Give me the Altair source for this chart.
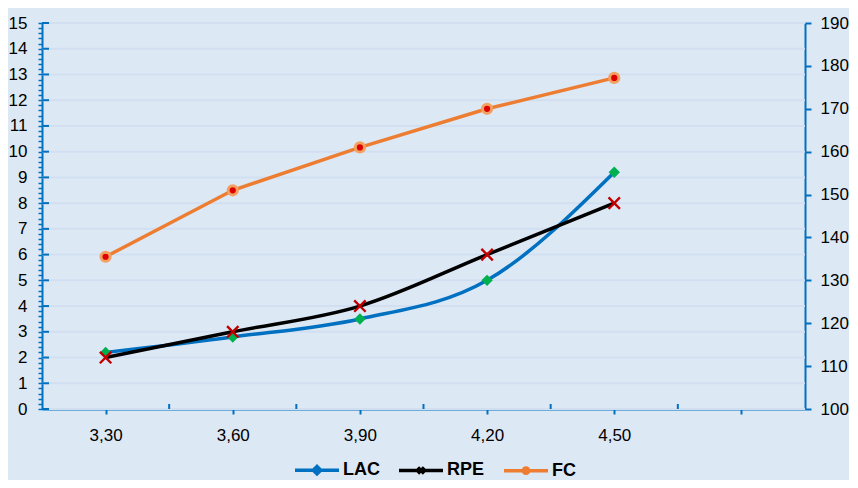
import json
import altair as alt
import pandas as pd

# ---- data ----
categories = ["3,30", "3,60", "3,90", "4,20", "4,50"]
lac = [2.2, 2.8, 3.5, 5.0, 9.2]
rpe = [2.0, 3.0, 4.0, 6.0, 8.0]
fc = [135.5, 151, 161, 170, 177.2]
x_labels = categories + [""]
left_ticks = list(range(0, 16))
right_ticks = list(range(100, 191, 10))
series = ["LAC", "RPE", "FC"]
line_colors = ["#0070c0", "#000000", "#ed7d31"]
marker_fills = ["#00b050", "transparent", "#e00000"]

BLUE = "#0070c0"
BG = "#dde8f5"
GRID = "#d1dff1"
FONT = "Liberation Sans"
W, H = 763, 386

rows = []
for i, c in enumerate(categories):
    rows.append({"i": i, "cat": c, "s": "LAC", "y": lac[i]})
    rows.append({"i": i, "cat": c, "s": "RPE", "y": rpe[i]})
left_df = pd.DataFrame(rows)
right_df = pd.DataFrame({"i": list(range(len(categories))), "cat": categories,
                         "s": ["FC"] * len(categories), "y2": fc})
grid_df = pd.DataFrame({"y": left_ticks})
bound_df = pd.DataFrame({"i": [k + 0.5 for k in range(len(categories))]})
legend_df = pd.DataFrame({"i": [0, 0, 0], "y": [0, 0, 0], "s": series})

# ---- axes ----
x_axis = alt.Axis(values=list(range(len(x_labels))),
                  labelExpr=json.dumps(x_labels) + "[datum.value]",
                  tickSize=5, tickWidth=2, tickColor=BLUE, domainColor=BLUE,
                  domainWidth=2, grid=False, labelFontSize=17, labelColor="black",
                  labelFont=FONT, labelPadding=13, title=None, labelOverlap=False)
x_enc = alt.X("i:Q", scale=alt.Scale(domain=[-0.5, len(x_labels) - 0.5], nice=False, zero=False),
              axis=x_axis)

minor = [round(k * 0.2, 1) for k in range(76)]
left_axis = alt.Axis(values=minor,
                     labelExpr="datum.value % 1 == 0 ? format(datum.value, 'd') : ''",
                     tickSize=4, tickWidth=1.5, tickColor=BLUE, domainColor=BLUE,
                     domainWidth=2, grid=False, labelFontSize=17, labelColor="black",
                     labelFont=FONT, labelPadding=11, title=None, labelOverlap=False,
                     orient="left")
y_scale = alt.Scale(domain=[0, 15], nice=False, zero=True)

right_axis = alt.Axis(values=right_ticks, tickSize=6, tickWidth=2, tickColor=BLUE,
                      domainColor=BLUE, domainWidth=2, grid=False, labelFontSize=17,
                      labelColor="black", labelFont=FONT, labelPadding=9, title=None,
                      orient="right", labelOverlap=False)
y2_scale = alt.Scale(domain=[100, 190], nice=False, zero=False)

# ---- legend: line + marker symbols ----
legend_paths = [
    "M-1,0H1M-0.17,0L0,-0.17L0.17,0L0,0.17Z",
    "M-1,0H1M-0.14,-0.14L0.14,0.14M-0.14,0.14L0.14,-0.14",
    "M-1,0H1M-0.12,0A0.12,0.12,0,1,0,0.12,0A0.12,0.12,0,1,0,-0.12,0Z",
]


def make_legend(stype=None):
    kw = dict(title=None, orient="none", legendX=251, legendY=423,
              direction="horizontal", symbolSize=1936, symbolStrokeWidth=3.5,
              symbolOpacity=1,
              labelFontSize=18, labelFontWeight="bold", labelColor="black",
              labelFont=FONT, columnPadding=12, labelOffset=2)
    if stype:
        kw["symbolType"] = stype
    return alt.Legend(**kw)


color_enc = alt.Color("s:N", scale=alt.Scale(domain=series, range=line_colors),
                      legend=make_legend("M-1,0H1"))

legend_layer = alt.Chart(legend_df).mark_point(
    filled=True, strokeWidth=3.5, opacity=0).encode(
    x=x_enc, y=alt.Y("y:Q", scale=y_scale, axis=left_axis),
    fill=alt.Fill("s:N", scale=alt.Scale(domain=series, range=marker_fills),
                  legend=make_legend()),
    shape=alt.Shape("s:N", scale=alt.Scale(domain=series, range=legend_paths),
                    legend=make_legend()),
)

# ---- left group ----
grid = alt.Chart(grid_df).mark_rule(color=GRID, strokeWidth=2).encode(
    y=alt.Y("y:Q", scale=y_scale, axis=left_axis), x=alt.value(0), x2=alt.value(W))
major = alt.Chart(grid_df).mark_rule(color=BLUE, strokeWidth=2).encode(
    y=alt.Y("y:Q", scale=y_scale, axis=left_axis), x=alt.value(0), x2=alt.value(7))
bounds = alt.Chart(bound_df).mark_rule(color=BLUE, strokeWidth=2).encode(
    x=x_enc, y=alt.value(H), y2=alt.value(H - 5))
lines = alt.Chart(left_df).mark_line(strokeWidth=3.5, interpolate="monotone").encode(
    x=x_enc, y=alt.Y("y:Q", scale=y_scale, axis=left_axis), color=color_enc, detail="s:N")
lac_pts = alt.Chart(left_df).transform_filter("datum.s == 'LAC'").mark_point(
    shape="diamond", filled=True, color="#00b050", size=130, opacity=1).encode(
    x=x_enc, y=alt.Y("y:Q", scale=y_scale, axis=left_axis))
rpe_pts = alt.Chart(left_df).transform_filter("datum.s == 'RPE'").mark_point(
    shape="M-1,-1L1,1M-1,1L1,-1", filled=False, color="#c00000", strokeWidth=2.4,
    size=130, opacity=1).encode(
    x=x_enc, y=alt.Y("y:Q", scale=y_scale, axis=left_axis))
left = alt.layer(grid, major, bounds, lines, lac_pts, rpe_pts, legend_layer)

# ---- right group ----
fc_line = alt.Chart(right_df).mark_line(strokeWidth=3.5).encode(
    x=x_enc, y=alt.Y("y2:Q", scale=y2_scale, axis=right_axis), color=color_enc)
fc_pts = alt.Chart(right_df).mark_point(
    shape="circle", filled=True, fill="#dd0000", stroke="#f4a060", strokeWidth=3,
    size=85, opacity=1).encode(
    x=x_enc, y=alt.Y("y2:Q", scale=y2_scale, axis=right_axis))
right = alt.layer(fc_line, fc_pts)

chart = alt.layer(left, right).resolve_scale(y="independent").properties(
    width=W, height=H, background=BG,
    padding={"left": 34, "top": 15, "right": 44, "bottom": 71},
    autosize=alt.AutoSizeParams(type="none"),
).configure_view(stroke=None)

chart.save("out.html", embed_options={"renderer": "svg", "actions": False})
